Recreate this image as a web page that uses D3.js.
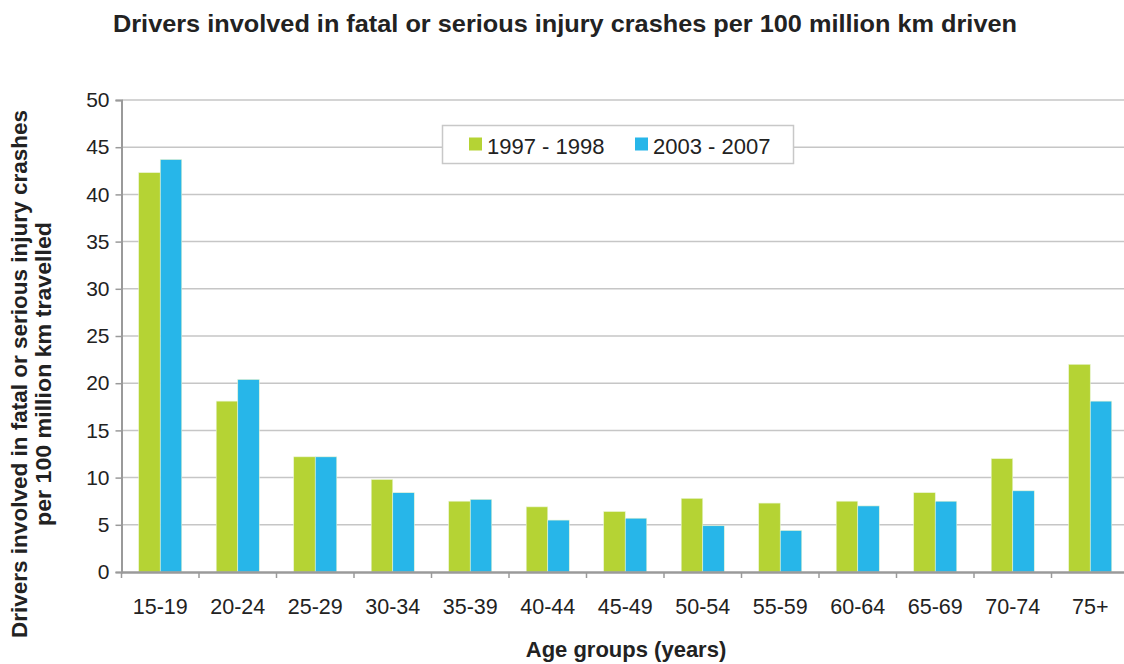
<!DOCTYPE html>
<html>
<head>
<meta charset="utf-8">
<script src="https://cdn.jsdelivr.net/npm/d3@7"></script>
<style>
	body { margin: 0; background: #fff; }
	svg { font-family: "Liberation Sans", Arial, sans-serif; }
</style>
</head>
<body>
<svg id="chart" width="1124" height="664"></svg>
<script>
var ageGroups = ["15-19", "20-24", "25-29", "30-34", "35-39", "40-44", "45-49",
	"50-54", "55-59", "60-64", "65-69", "70-74", "75+"];
var seriesNames = ["1997 - 1998", "2003 - 2007"];
var values1997 = [42.3, 18.1, 12.2, 9.8, 7.5, 6.9, 6.4, 7.8, 7.3, 7.5, 8.4, 12.0, 22.0];
var values2003 = [43.7, 20.4, 12.2, 8.4, 7.7, 5.5, 5.7, 4.9, 4.4, 7.0, 7.5, 8.6, 18.1];
var yTicks = [0, 5, 10, 15, 20, 25, 30, 35, 40, 45, 50];
var colors = ["#b5d334", "#27b6e9"];

var svg = d3.select("#chart");

var x = d3.scaleBand()
	.domain(ageGroups)
	.range([121.5, 1129])
	.paddingInner(0)
	.paddingOuter(0);

var y = d3.scaleLinear()
	.domain([0, 50])
	.range([572, 100]);

// gridlines
svg.append("g")
	.selectAll("line")
	.data(yTicks.filter(function(d) { return d > 0; }))
	.enter().append("line")
		.attr("x1", 121.5)
		.attr("x2", 1124)
		.attr("y1", function(d) { return y(d); })
		.attr("y2", function(d) { return y(d); })
		.attr("stroke", "#c6c6c6")
		.attr("stroke-width", 1.5);

// bars
var barW = x.bandwidth() / (2 + 1.6);
var gap = barW * 0.8;
var rows = ageGroups.map(function(a, i) { return {age: a, v: [values1997[i], values2003[i]]}; });

var groups = svg.append("g")
	.selectAll("g")
	.data(rows)
	.enter().append("g")
		.attr("transform", function(d) { return "translate(" + (x(d.age) + gap) + ",0)"; });

groups.selectAll("rect")
	.data(function(d) { return d.v; })
	.enter().append("rect")
		.attr("x", function(d, i) { return i * barW; })
		.attr("y", function(d) { return y(d); })
		.attr("width", barW)
		.attr("height", function(d) { return y(0) - y(d); })
		.attr("fill", function(d, i) { return colors[i]; })
		.attr("stroke", "#e8f4d0")
		.attr("stroke-width", 0.6);

// y axis
var yAxis = svg.append("g")
	.attr("transform", "translate(121.5,0)")
	.call(d3.axisLeft(y).tickValues(yTicks).tickSize(6).tickPadding(6));
yAxis.select(".domain").attr("stroke", "#9a9a9a").attr("stroke-width", 2);
yAxis.selectAll(".tick line").attr("stroke", "#9a9a9a").attr("stroke-width", 1.5);
yAxis.selectAll(".tick text")
	.attr("font-size", 21)
	.attr("fill", "#222")
	.attr("font-family", "Liberation Sans, Arial, sans-serif");

// x axis
var xAxis = svg.append("g")
	.attr("transform", "translate(0,572)")
	.call(d3.axisBottom(x).tickSize(0).tickPadding(27));
xAxis.select(".domain").attr("stroke", "#9a9a9a").attr("stroke-width", 2.5);
xAxis.selectAll(".tick text")
	.attr("font-size", 21.5)
	.attr("fill", "#222")
	.attr("font-family", "Liberation Sans, Arial, sans-serif");

// category separators
svg.append("g")
	.selectAll("line")
	.data(ageGroups)
	.enter().append("line")
		.attr("x1", function(d) { return x(d); })
		.attr("x2", function(d) { return x(d); })
		.attr("y1", 572)
		.attr("y2", 578)
		.attr("stroke", "#9a9a9a")
		.attr("stroke-width", 1.5);

// title
svg.append("text")
	.attr("x", 113)
	.attr("y", 32)
	.attr("font-size", 24)
	.attr("font-weight", "bold")
	.attr("fill", "#222")
	.attr("textLength", 904)
	.attr("lengthAdjust", "spacingAndGlyphs")
	.text("Drivers involved in fatal or serious injury crashes per 100 million km driven");

// axis titles
svg.append("text")
	.attr("x", 626)
	.attr("y", 657)
	.attr("text-anchor", "middle")
	.attr("font-size", 22)
	.attr("font-weight", "bold")
	.attr("fill", "#222")
	.text("Age groups (years)");

var yTitle = svg.append("text")
	.attr("transform", "translate(0,374) rotate(-90)")
	.attr("text-anchor", "middle")
	.attr("font-size", 22)
	.attr("font-weight", "bold")
	.attr("fill", "#222");
yTitle.append("tspan").attr("x", 0).attr("y", 27)
	.attr("textLength", 528).attr("lengthAdjust", "spacingAndGlyphs")
	.text("Drivers involved in fatal or serious injury crashes");
yTitle.append("tspan").attr("x", 0).attr("y", 51)
	.attr("textLength", 304).attr("lengthAdjust", "spacingAndGlyphs")
	.text("per 100 million km travelled");

// legend
var legend = svg.append("g");
legend.append("rect")
	.attr("x", 442.5)
	.attr("y", 125.5)
	.attr("width", 351)
	.attr("height", 38)
	.attr("fill", "#fff")
	.attr("stroke", "#c8c8c8")
	.attr("stroke-width", 1.5);

var legendX = [469, 635];
seriesNames.forEach(function(name, i) {
	legend.append("rect")
		.attr("x", legendX[i])
		.attr("y", 137.5)
		.attr("width", 13)
		.attr("height", 13)
		.attr("fill", colors[i]);
	legend.append("text")
		.attr("x", legendX[i] + 18)
		.attr("y", 154)
		.attr("font-size", 22)
		.attr("fill", "#222")
		.text(name);
});
</script>
</body>
</html>
